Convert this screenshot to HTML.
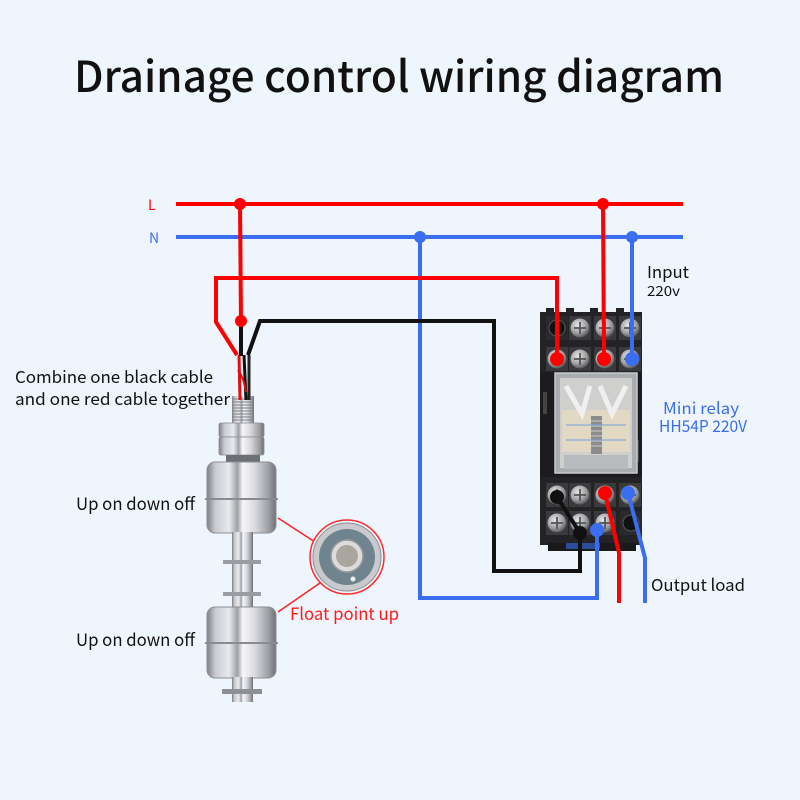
<!DOCTYPE html>
<html><head><meta charset="utf-8"><style>
html,body{margin:0;padding:0;background:#eef5fd;}
svg{display:block}
text{font-family:"Noto Sans CJK SC","Liberation Sans",sans-serif;}
</style></head><body>
<svg width="800" height="800" viewBox="0 0 800 800" xmlns="http://www.w3.org/2000/svg">
<defs>
<linearGradient id="metal" x1="0" x2="1" y1="0" y2="0">
 <stop offset="0" stop-color="#7d7f85"/>
 <stop offset="0.12" stop-color="#c9cbd0"/>
 <stop offset="0.32" stop-color="#e9eaee"/>
 <stop offset="0.44" stop-color="#9fa1a7"/>
 <stop offset="0.52" stop-color="#f7f7f9"/>
 <stop offset="0.7" stop-color="#d8d9dd"/>
 <stop offset="0.9" stop-color="#9a9ca2"/>
 <stop offset="1" stop-color="#6e7076"/>
</linearGradient>
<radialGradient id="scr" cx="0.4" cy="0.35" r="0.7">
 <stop offset="0" stop-color="#e8e8e8"/>
 <stop offset="0.6" stop-color="#9fa1a4"/>
 <stop offset="1" stop-color="#4a4a4a"/>
</radialGradient>
<g id="screw">
 <rect x="-11" y="-12" width="22" height="24" fill="#3a3a3d"/>
 <circle r="9.5" fill="url(#scr)"/>
 <path d="M-6 0H6M0 -6V6" stroke="#555" stroke-width="1.8"/>
</g>
<g id="hole">
 <rect x="-11" y="-12" width="22" height="24" fill="#2a2a2c"/>
 <circle r="8" fill="#111" stroke="#555" stroke-width="1"/>
</g>
</defs>
<rect width="800" height="800" fill="#eef5fd"/>

<text x="74" y="92" font-size="43" font-weight="500" textLength="650" lengthAdjust="spacingAndGlyphs" fill="#111">Drainage control wiring diagram</text>

<!-- Relay -->
<rect x="540" y="312" width="102" height="62" fill="#232326"/>
<rect x="546" y="308" width="8" height="6" fill="#232326"/>
<rect x="566" y="308" width="8" height="6" fill="#232326"/>
<rect x="590" y="308" width="8" height="6" fill="#232326"/>
<rect x="616" y="308" width="8" height="6" fill="#232326"/>
<use href="#hole" x="557" y="328"/>
<use href="#screw" x="580" y="328"/>
<use href="#screw" x="605" y="328"/>
<use href="#screw" x="630" y="328"/>
<use href="#screw" x="557" y="359"/>
<use href="#screw" x="580" y="359"/>
<use href="#screw" x="605" y="359"/>
<use href="#screw" x="630" y="359"/>
<rect x="540" y="372" width="102" height="106" fill="#1c1c1f"/>
<rect x="543" y="392" width="4" height="22" fill="#444"/>
<rect x="635" y="440" width="4" height="22" fill="#444"/>
<rect x="555" y="373" width="82" height="100" fill="#a9acb0" stroke="#c8cbce" stroke-width="1.5"/>
<rect x="560" y="378" width="72" height="90" fill="#cfd0ce"/>
<rect x="562" y="410" width="68" height="42" fill="#e2d9c4"/>
<polyline points="566,386 582,414 590,386" fill="none" stroke="#f0f0f0" stroke-width="5"/>
<polyline points="600,386 612,414 626,386" fill="none" stroke="#f0f0f0" stroke-width="5"/>
<rect x="591" y="416" width="11" height="38" fill="#8c8c8c"/>
<path d="M591 421h11M591 426h11M591 431h11M591 436h11M591 441h11M591 446h11" stroke="#c8c8c8" stroke-width="1"/>
<rect x="564" y="455" width="64" height="14" fill="#b8bbbe"/>
<path d="M566 425h60M566 440h60" stroke="#7fa3d8" stroke-width="1.5" opacity="0.7"/>
<rect x="540" y="477" width="102" height="68" fill="#232326"/>
<rect x="548" y="543" width="88" height="8" fill="#1a1a1c"/>
<rect x="566" y="543" width="34" height="6" fill="#3a6df0" opacity="0.6"/>
<use href="#screw" x="557" y="495"/>
<use href="#screw" x="580" y="495"/>
<use href="#screw" x="605" y="495"/>
<use href="#screw" x="630" y="495"/>
<use href="#screw" x="557" y="523"/>
<use href="#screw" x="580" y="523"/>
<use href="#screw" x="605" y="523"/>
<use href="#hole" x="631" y="523"/>

<!-- Float switch -->
<rect x="232" y="396" width="22" height="28" fill="url(#metal)"/>
<path d="M232 399h22M232 402h22M232 405h22M232 408h22M232 411h22M232 414h22M232 417h22M232 420h22" stroke="#7e8086" stroke-width="1"/>
<line x1="239" y1="355" x2="240" y2="400" stroke="#e01010" stroke-width="3"/>
<line x1="244" y1="355" x2="246" y2="400" stroke="#111" stroke-width="3"/>
<line x1="249" y1="355" x2="249" y2="400" stroke="#222" stroke-width="3"/>
<path d="M238 370 Q244 378 246 392" stroke="#e01010" stroke-width="2" fill="none"/>
<rect x="219" y="423" width="45" height="14" rx="2" fill="url(#metal)" stroke="#8a8c90" stroke-width="0.8"/>
<rect x="219" y="437" width="45" height="18" rx="2" fill="url(#metal)" stroke="#8a8c90" stroke-width="0.8"/>
<rect x="226" y="455" width="34" height="8" fill="#6d6f74"/>
<rect x="207" y="462" width="69" height="71" rx="8" fill="url(#metal)" stroke="#8d8f94" stroke-width="1"/>
<line x1="205" y1="499" x2="278" y2="499" stroke="#8a8c92" stroke-width="2"/>
<rect x="232" y="532" width="21" height="77" fill="url(#metal)"/>
<rect x="223" y="560" width="38" height="4" fill="#9a9ca1"/>
<rect x="223" y="592" width="38" height="4" fill="#9a9ca1"/>
<rect x="207" y="607" width="69" height="71" rx="8" fill="url(#metal)" stroke="#8d8f94" stroke-width="1"/>
<line x1="205" y1="643" x2="278" y2="643" stroke="#8a8c92" stroke-width="2"/>
<rect x="232" y="677" width="21" height="25" fill="url(#metal)"/>
<rect x="222" y="689" width="40" height="5" fill="#8d8f94"/>

<!-- float point circle -->
<line x1="278" y1="518" x2="315" y2="542" stroke="#ff2020" stroke-width="1.5"/>
<line x1="278" y1="612" x2="320" y2="583" stroke="#ff2020" stroke-width="1.5"/>
<circle cx="347" cy="557" r="37" fill="#eef5fd" stroke="#ff2a2a" stroke-width="1.5"/>
<circle cx="347" cy="557" r="34" fill="#c9cacd" stroke="#8b8d92" stroke-width="1"/>
<circle cx="347" cy="557" r="28" fill="#6f848f"/>
<circle cx="347" cy="556" r="16" fill="#dcdcdc" stroke="#999" stroke-width="1.5"/>
<circle cx="347" cy="556" r="11" fill="#aaa59e"/>
<circle cx="353" cy="579" r="2.5" fill="#eee"/>

<!-- Wires -->
<line x1="176" y1="237" x2="683" y2="237" stroke="#3a6df0" stroke-width="4"/>
<polyline points="420,237 420,598 597,598 597,530" fill="none" stroke="#3a6df0" stroke-width="4"/>
<line x1="632" y1="237" x2="632" y2="359" stroke="#3a6df0" stroke-width="4"/>
<polyline points="628,493 645,558 645,603" fill="none" stroke="#3a6df0" stroke-width="4"/>
<line x1="176" y1="204" x2="683" y2="204" stroke="#ff0000" stroke-width="4"/>
<line x1="240" y1="204" x2="241" y2="321" stroke="#ff0000" stroke-width="4"/>
<polyline points="237,355 216,322 216,278 557,278 557,359" fill="none" stroke="#ff0000" stroke-width="4"/>
<line x1="603" y1="204" x2="604" y2="359" stroke="#ff0000" stroke-width="4"/>
<polyline points="605,493 619,553 619,603" fill="none" stroke="#ff0000" stroke-width="4"/>
<line x1="241" y1="321" x2="241" y2="356" stroke="#111" stroke-width="4"/>
<polyline points="248,355 260,321 494,321 494,571 580,571 580,533" fill="none" stroke="#111" stroke-width="4"/>
<line x1="557" y1="497" x2="580" y2="533" stroke="#111" stroke-width="4"/>

<!-- dots -->
<circle cx="240" cy="204" r="6" fill="#ff0000"/>
<circle cx="603" cy="204" r="6" fill="#ff0000"/>
<circle cx="420" cy="237" r="6" fill="#3a6df0"/>
<circle cx="632" cy="237" r="6" fill="#3a6df0"/>
<circle cx="241" cy="321" r="6" fill="#ff0000"/>
<circle cx="557" cy="359" r="7" fill="#ff0000"/>
<circle cx="604" cy="359" r="7" fill="#ff0000"/>
<circle cx="632" cy="359" r="7" fill="#3a6df0"/>
<circle cx="557" cy="497" r="7" fill="#111"/>
<circle cx="580" cy="533" r="7" fill="#111"/>
<circle cx="605" cy="493" r="7" fill="#ff0000"/>
<circle cx="628" cy="493" r="7" fill="#3a6df0"/>
<circle cx="597" cy="530" r="7" fill="#3a6df0"/>

<!-- Labels -->
<text x="148" y="210" font-size="14" fill="#ff0000">L</text>
<text x="149" y="243" font-size="14" fill="#3a6df0">N</text>
<text x="15" y="383" font-size="16.5" fill="#111" textLength="198" lengthAdjust="spacingAndGlyphs">Combine one black cable</text>
<text x="15" y="405" font-size="16.5" fill="#111" textLength="215" lengthAdjust="spacingAndGlyphs">and one red cable together</text>
<text x="76" y="510" font-size="17" fill="#111" textLength="119" lengthAdjust="spacingAndGlyphs">Up on down off</text>
<text x="76" y="646" font-size="17" fill="#111" textLength="119" lengthAdjust="spacingAndGlyphs">Up on down off</text>
<text x="290" y="620" font-size="17" fill="#ff1a1a" textLength="109" lengthAdjust="spacingAndGlyphs">Float point up</text>
<text x="647" y="278" font-size="16.5" fill="#111" textLength="42" lengthAdjust="spacingAndGlyphs">Input</text>
<text x="647" y="296" font-size="14" fill="#111" textLength="33" lengthAdjust="spacingAndGlyphs">220v</text>
<text x="663" y="414" font-size="16" fill="#3a6df0" textLength="76" lengthAdjust="spacingAndGlyphs">Mini relay</text>
<text x="659" y="432" font-size="16" fill="#3a6df0" textLength="88" lengthAdjust="spacingAndGlyphs">HH54P 220V</text>
<text x="651" y="591" font-size="16.5" fill="#111" textLength="94" lengthAdjust="spacingAndGlyphs">Output load</text>
</svg>
</body></html>
